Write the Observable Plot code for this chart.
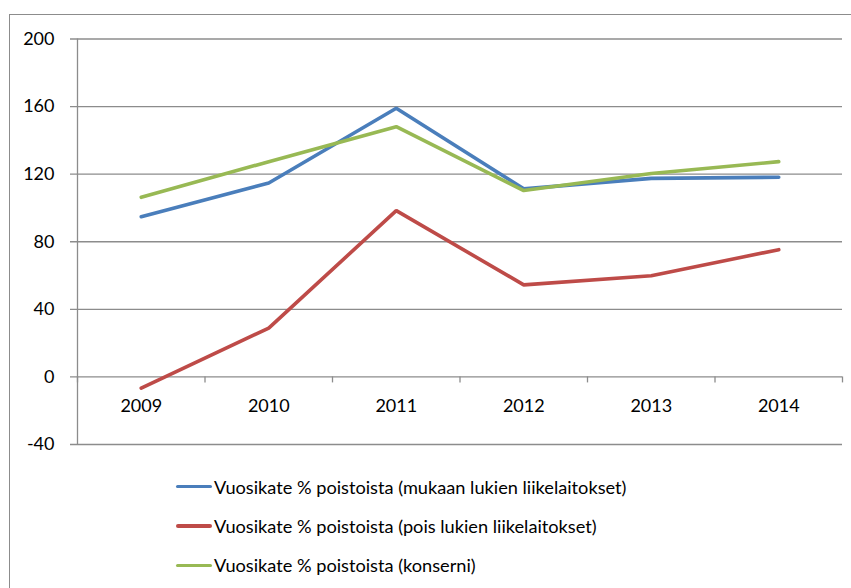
<!DOCTYPE html>
<html>
<head>
<meta charset="utf-8">
<script src="https://cdn.jsdelivr.net/npm/d3@7"></script>
<script src="https://cdn.jsdelivr.net/npm/@observablehq/plot@0.6"></script>
<style>
  html, body { margin: 0; padding: 0; background: #fff; }
  #wrap { position: relative; width: 851px; height: 588px; overflow: hidden; font-family: Lato, sans-serif; }
  #border { position: absolute; left: 9px; top: 14px; right: -5px; bottom: -5px; border-left: 1.5px solid #8c8c8c; border-top: 1.5px solid #8c8c8c; pointer-events: none; }
  #legend { position: absolute; left: 0; top: 467px; width: 851px; }
  .row { position: relative; height: 39.4px; display: flex; align-items: center; }
  .sw { position: absolute; left: 176px; width: 36px; height: 3.5px; border-radius: 2px; }
  .lab { position: absolute; left: 214px; font-size: 18.2px; color: #000; white-space: nowrap; }
</style>
</head>
<body>
<div id="wrap">
  <div id="chart"></div>
  <div id="legend"></div>
  <div id="border"></div>
</div>
<script>
const years = [2009, 2010, 2011, 2012, 2013, 2014];
const mukaan = [94.8, 114.8, 159, 111.3, 117.5, 118.2];
const pois = [-6.7, 28.9, 98.4, 54.5, 59.9, 75.3];
const konserni = [106.3, 127.4, 148.1, 110.3, 120.4, 127.4];
const yTicks = [-40, 0, 40, 80, 120, 160, 200];
const seriesNames = [
  "Vuosikate % poistoista (mukaan lukien liikelaitokset)",
  "Vuosikate % poistoista (pois lukien liikelaitokset)",
  "Vuosikate % poistoista (konserni)"
];
const colors = ["#4a7ebb", "#be4b48", "#98b954"];

const seriesValues = [mukaan, pois, konserni];
const rows = [];
seriesValues.forEach((vals, s) => vals.forEach((v, i) => rows.push({year: years[i], value: v, series: seriesNames[s]})));

const xMin = years[0] - 0.5, xMax = years[years.length - 1] + 0.5;
const bounds = [xMin, ...years.map(y => y + 0.5)];
const grid = "#8c8c8c";

const chart = Plot.plot({
  width: 851,
  height: 460,
  marginLeft: 77,
  marginRight: 9,
  marginTop: 38.5,
  marginBottom: 16,
  x: {domain: [xMin, xMax], axis: null},
  y: {domain: [yTicks[0], yTicks[yTicks.length - 1]], axis: null},
  color: {domain: seriesNames, range: colors},
  style: {fontFamily: "Lato, sans-serif", fontSize: "18px", background: "transparent", color: "#000"},
  marks: [
    Plot.ruleY(yTicks, {x1: xMin, x2: xMax, stroke: grid, strokeWidth: 1.3, insetLeft: -7}),
    Plot.ruleX([xMin], {y1: yTicks[0], y2: yTicks[yTicks.length - 1], stroke: grid, strokeWidth: 1.3}),
    Plot.ruleX(bounds, {x: d => d, y1: 0, y2: 0, insetBottom: -6, stroke: grid, strokeWidth: 1.3}),
    Plot.text(yTicks, {x: xMin, y: d => d, text: d => String(d), textAnchor: "end", dx: -23, fill: "#000"}),
    Plot.text(years, {x: d => d, y: 0, dy: 29, text: d => String(d), fill: "#000"}),
    Plot.line(rows, {x: "year", y: "value", z: "series", stroke: "series", strokeWidth: 3.6, strokeLinecap: "round", strokeLinejoin: "miter"})
  ]
});
document.getElementById("chart").appendChild(chart);

const legend = document.getElementById("legend");
seriesNames.forEach((name, i) => {
  const row = document.createElement("div");
  row.className = "row";
  const sw = document.createElement("div");
  sw.className = "sw";
  sw.style.background = colors[i];
  const lab = document.createElement("div");
  lab.className = "lab";
  lab.textContent = name;
  row.appendChild(sw);
  row.appendChild(lab);
  legend.appendChild(row);
});
</script>
</body>
</html>
